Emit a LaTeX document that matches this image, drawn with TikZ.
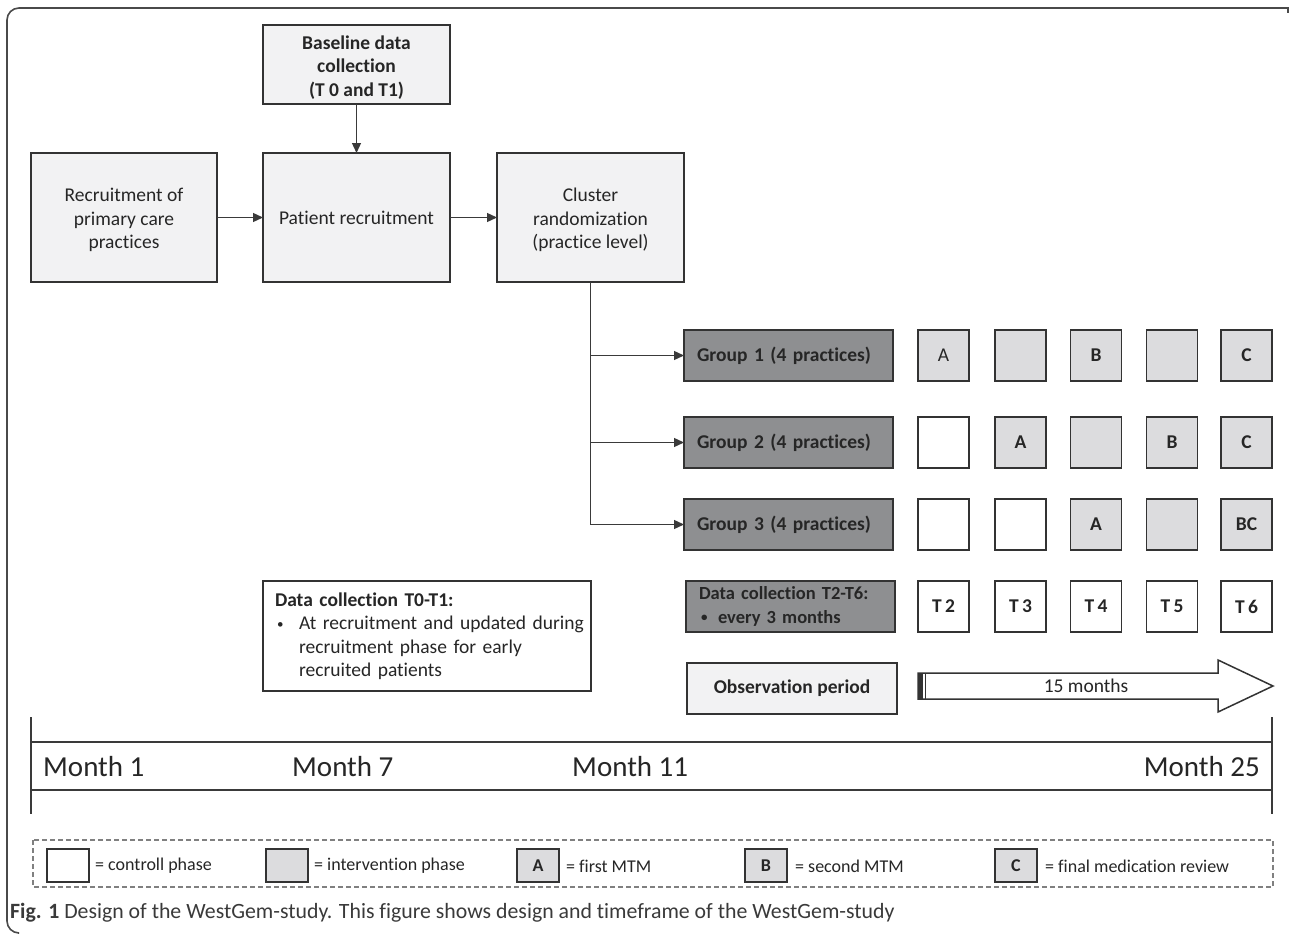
\documentclass[tikz,border=0pt]{standalone}
\usepackage{fontspec}
\setmainfont{Carlito}[Ligatures=CommonOff]
\usetikzlibrary{arrows.meta}
\definecolor{boxfill}{HTML}{F2F2F3}
\definecolor{sqfill}{HTML}{DCDCDE}
\definecolor{grpfill}{HTML}{8E8F91}
\definecolor{bord}{HTML}{333333}
\definecolor{txt}{HTML}{262626}
\definecolor{lin}{HTML}{3A3A3A}
\definecolor{framecol}{HTML}{4A4A4A}
\definecolor{captxt}{HTML}{3A3A3A}
\newcommand{\smbul}{\raisebox{1.5pt}{\fontsize{13}{13}\selectfont •}}
\begin{document}
\begin{tikzpicture}[x=1pt,y=-1pt,
  fs/.style={font=\fontsize{19.5}{23.5}\selectfont},
  bfs/.style={font=\fontsize{19.5}{23.5}\selectfont\bfseries},
  box/.style={draw=bord, line width=1.8pt, fill=boxfill, inner sep=0pt, outer sep=0pt, text=txt, align=center},
  grp/.style={draw=bord, line width=1.8pt, fill=grpfill, inner xsep=13pt, inner ysep=0pt, outer sep=0pt, minimum height=51, text width=183pt, align=left, text=txt, bfs},
  sq/.style={draw=bord, line width=1.8pt, fill=sqfill, minimum size=51, inner sep=0pt, outer sep=0pt, text=txt, bfs},
  wsq/.style={sq, fill=white},
  lsq/.style={draw=bord, line width=1.6pt, fill=sqfill, minimum width=42, minimum height=33, inner sep=0pt, outer sep=0pt, text=txt, font=\fontsize{18}{20}\selectfont\bfseries},
  ltxt/.style={anchor=west, inner sep=0pt, text=txt, font=\fontsize{18}{20}\selectfont},
  conn/.style={draw=lin, line width=1.3pt},
  arr/.style={conn, -{Triangle[length=10pt,width=9pt]}},
  month/.style={inner sep=0pt, text=txt, font=\fontsize{29}{32}\selectfont}
]
\useasboundingbox (0,0) rectangle (1290,934);
\fill[white] (0,0) rectangle (1290,934);

% outer frame
\draw[framecol, line width=1.6pt] (1288,13) -- (1288,8) -- (30,8) {[rounded corners=12] -- (7,8) -- (7,933) -- (18,933)};

% top flow
\node[box, bfs, minimum width=187, minimum height=79] (base) at (356.5,64.5) {\rule{0pt}{19pt}Baseline data\\collection\\(T 0 and T1)};
\node[box, fs, minimum width=186, minimum height=129] (recp) at (124,217.5) {\rule{0pt}{19pt}Recruitment of\\primary care\\practices};
\node[box, fs, minimum width=187, minimum height=129] (pat) at (356.5,217.5) {Patient recruitment};
\node[box, fs, minimum width=187, minimum height=129] (clu) at (590.5,217.5) {\rule{0pt}{19pt}Cluster\\randomization\\(practice level)};

\draw[arr] (base.south) -- (pat.north);
\draw[arr] (recp.east) -- (pat.west);
\draw[arr] (pat.east) -- (clu.west);

% groups
\node[grp] (g1) at (788.5,355.5) {\mbox{Group 1 (4 practices)}};
\node[grp] (g2) at (788.5,442.5) {\mbox{Group 2 (4 practices)}};
\node[grp] (g3) at (788.5,524.5) {\mbox{Group 3 (4 practices)}};

\coordinate (b1) at (clu.south |- g1.west);
\coordinate (b2) at (clu.south |- g2.west);
\coordinate (b3) at (clu.south |- g3.west);
\draw[conn] (clu.south) -- (b3);
\draw[arr] (b1) -- (g1.west);
\draw[arr] (b2) -- (g2.west);
\draw[arr] (b3) -- (g3.west);

% squares row 1
\node[sq, fs] (s11) at (943.5,355.5) {A};
\node[sq] (s12) at (1020.5,355.5) {};
\node[sq] (s13) at (1096,355.5) {B};
\node[sq] (s14) at (1172,355.5) {};
\node[sq] (s15) at (1246.5,355.5) {C};
% row 2
\node[wsq] (s21) at (943.5,442.5) {};
\node[sq] (s22) at (1020.5,442.5) {A};
\node[sq] (s23) at (1096,442.5) {};
\node[sq] (s24) at (1172,442.5) {B};
\node[sq] (s25) at (1246.5,442.5) {C};
% row 3
\node[wsq] (s31) at (943.5,524.5) {};
\node[wsq] (s32) at (1020.5,524.5) {};
\node[sq] (s33) at (1096,524.5) {A};
\node[sq] (s34) at (1172,524.5) {};
\node[sq] (s35) at (1246.5,524.5) {BC};
% data collection row
\node[grp, font=\fontsize{18.5}{23.5}\selectfont\bfseries] (dc) at (790.5,606.5) {\mbox{Data collection T2-T6:}\\\mbox{\makebox[19pt][l]{\hspace{2pt}\smbul}every 3 months}};
\node[wsq] (t2) at (943.5,606.5) {T\,2};
\node[wsq] (t3) at (1020.5,606.5) {T\,3};
\node[wsq] (t4) at (1096,606.5) {T\,4};
\node[wsq] (t5) at (1172,606.5) {T\,5};
\node[wsq] (t6) at (1246.5,606.5) {T\,6};

% T0-T1 box
\node[draw=bord, line width=1.6pt, fill=white, inner xsep=12pt, inner ysep=0pt, outer sep=0pt, minimum height=110, text width=304pt, align=left, text=txt, fs] (t01) at (427,636) {\mbox{\textbf{Data collection T0-T1:}}\\\mbox{\makebox[24pt][l]{\hspace{2pt}\smbul}At recruitment and updated during}\\\mbox{\hspace*{24pt}recruitment phase for early}\\\mbox{\hspace*{24pt}recruited patients}};

% observation period
\node[box, bfs, minimum width=210, minimum height=51] (obs) at (792,688.5) {Observation period};
\draw[bord, line width=1.5pt, fill=white] (918,673) -- (1218,673) -- (1218,660) -- (1273,686) -- (1218,712) -- (1218,699) -- (918,699) -- cycle;
\fill[bord] (918,673) rectangle (923,699);
\draw[bord, line width=1pt] (925.5,673) -- (925.5,699);
\node[fs, text=txt, inner sep=0pt] (fifteen) at (1086,686) {15 months};

% timeline
\draw[lin, line width=1.8pt] (31,717) -- (31,814);
\draw[lin, line width=1.8pt] (1272,717) -- (1272,814);
\draw[lin, line width=1.8pt] (31,742) -- (1272,742);
\draw[lin, line width=1.8pt] (31,790) -- (1272,790);
\node[month, anchor=west] (m1) at (43,767) {Month 1};
\node[month, anchor=west] (m7) at (292,767) {Month 7};
\node[month, anchor=west] (m11) at (572,767) {Month 11};
\node[month, anchor=east] (m25) at (1260,767) {Month 25};

% legend
\draw[gray, line width=1.2pt, dash pattern=on 5pt off 3pt] (33,840) rectangle (1273,887);
\node[lsq, fill=white] (lw) at (68,865.5) {};
\node[ltxt] (lwt) at (95,866) {= controll phase};
\node[lsq] (lg) at (287,865.5) {};
\node[ltxt] (lgt) at (314,866) {= intervention phase};
\node[lsq] (la) at (538,865.5) {A};
\node[ltxt] (lat) at (566,866) {= first MTM};
\node[lsq] (lb) at (766,865.5) {B};
\node[ltxt] (lbt) at (795,866) {= second MTM};
\node[lsq] (lc) at (1016,865.5) {C};
\node[ltxt] (lct) at (1045,866) {= final medication review};

% caption
\node[anchor=west, inner sep=0pt, text=captxt, font=\fontsize{21.8}{24}\selectfont] (cap) at (10,913) {\textbf{Fig. 1} Design of the WestGem-study. This figure shows design and timeframe of the WestGem-study};
\end{tikzpicture}
\end{document}
